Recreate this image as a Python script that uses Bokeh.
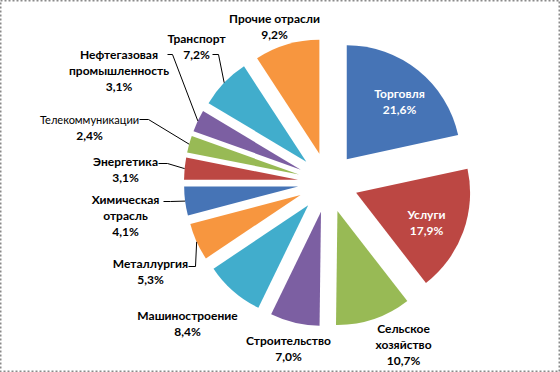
import math
from bokeh.plotting import figure
from bokeh.models import ColumnDataSource, Range1d
from bokeh.core.properties import value
from bokeh.embed import file_html
from bokeh.resources import INLINE

# ---- data ----
categories = ["Торговля", "Услуги", "Сельское\nхозяйство", "Строительство",
              "Машиностроение", "Металлургия", "Химическая\nотрасль", "Энергетика",
              "Телекоммуникации", "Нефтегазовая\nпромышленность", "Транспорт",
              "Прочие отрасли"]
shares = [21.6, 17.9, 10.7, 7.0, 8.4, 5.3, 4.1, 3.1, 2.4, 3.1, 7.2, 9.2]

# ---- style / layout ----
palette = ["#4674B6", "#BC4743", "#98BA55", "#7C5FA2", "#41ADCC", "#F7963F"]
inside = [True, True] + [False] * 10
condensed = [False] * 8 + [True] + [False] * 3
# label block centres in page pixels (x, y)
label_pos = [(399, 100.5), (426, 221.5), (403, 343.5), (288, 348), (187, 323),
             (150, 271), (125, 214.5), (125, 168.5), (89, 127), (118.5, 70),
             (196, 45.5), (274, 26)]
# leader lines: label-side start point and elbow x (page pixels); None = no leader
leader = [None, None, None, None, None,
          ((188, 266), 195), ((163, 201), 170), ((158, 163), 167),
          ((139, 119), 148), ((167, 54), 172), ((212, 54), 218), None]

CX, CY, R, D = 327.4, 182.1, 114, 30
LINE = 16
FONT = "Lato"
W, H = 560, 372

p = figure(width=W, height=H, x_range=Range1d(0, W), y_range=Range1d(-H, 0),
           output_backend="svg", toolbar_location=None, x_axis_type=None,
           y_axis_type=None, min_border=0)
p.grid.visible = False
p.background_fill_color = "white"
p.border_fill_color = "white"
p.outline_line_color = "#8a8a8a"
p.outline_line_width = 2
p.outline_line_dash = "2 2"

total = sum(shares)
cum = 0.0
wx, wy, sa, ea, cols = [], [], [], [], []
mids = []
for i, v in enumerate(shares):
    t1 = cum / total * 360.0
    cum += v
    t2 = cum / total * 360.0
    tm = (t1 + t2) / 2
    mids.append(tm)
    ex = CX + D * math.sin(math.radians(tm))
    ey = -CY + D * math.cos(math.radians(tm))
    wx.append(ex); wy.append(ey)
    sa.append(90 - t2); ea.append(90 - t1)
    cols.append(palette[i % len(palette)])

src = ColumnDataSource(dict(x=wx, y=wy, sa=sa, ea=ea, c=cols))
p.wedge(x="x", y="y", radius=R, start_angle="sa", end_angle="ea",
        start_angle_units="deg", end_angle_units="deg", direction="anticlock",
        fill_color="c", line_color=None, source=src)

# leader lines
for i, ld in enumerate(leader):
    if ld is None:
        continue
    (sx, sy), elx = ld
    tm = math.radians(mids[i])
    px = wx[i] + R * math.sin(tm)
    py = wy[i] + R * math.cos(tm)
    p.line([sx, elx, px], [-sy, -sy, py], line_color="black", line_width=1)

# labels
groups = {False: dict(x=[], y=[], t=[], c=[]), True: dict(x=[], y=[], t=[], c=[])}
for i, v in enumerate(shares):
    lines = categories[i].split("\n") + [f"{v:.1f}".replace(".", ",") + "%"]
    cx, cy = label_pos[i]
    n = len(lines)
    for k, s in enumerate(lines):
        g = groups[condensed[i] and k == 0]
        g["x"].append(cx)
        g["y"].append(-(cy + (k - (n - 1) / 2) * LINE))
        g["t"].append(s)
        g["c"].append("white" if inside[i] else "black")

p.text(x="x", y="y", text="t", text_color="c", source=ColumnDataSource(groups[False]),
       text_font=value(FONT), text_font_style="bold", text_font_size="12px",
       text_align="center", text_baseline="middle")
p.text(x="x", y="y", text="t", text_color="c", source=ColumnDataSource(groups[True]),
       text_font=value(FONT), text_font_style="normal", text_font_size="11px",
       text_align="center", text_baseline="middle")

open("out.html", "w").write(file_html(p, INLINE))
